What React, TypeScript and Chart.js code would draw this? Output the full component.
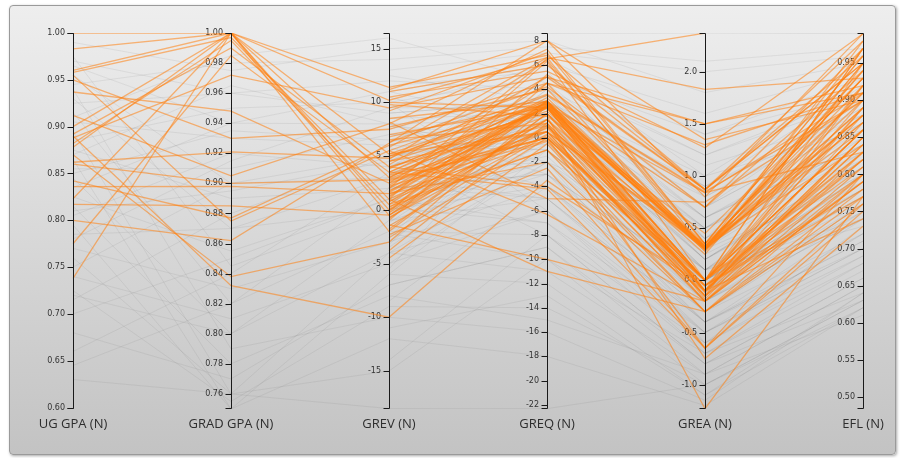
import React, { useEffect, useRef } from "react";
import { Chart, registerables } from "chart.js";

Chart.register(...registerables);

// ---- axes ----
const AXIS_NAMES = ["UG GPA (N)", "GRAD GPA (N)", "GREV (N)", "GREQ (N)", "GREA (N)", "EFL (N)"];
const AXIS_MIN = [0.5985, 0.75, -18.54, -22.33, -1.233, 0.4834];
const AXIS_MAX = [1.0, 1.0, 16.46, 8.634, 2.371, 0.9909];

const TICKS_UG = [0.6, 0.65, 0.7, 0.75, 0.8, 0.85, 0.9, 0.95, 1.0];
const TICKS_GRAD = [0.76, 0.78, 0.8, 0.82, 0.84, 0.86, 0.88, 0.9, 0.92, 0.94, 0.96, 0.98, 1.0];
const TICKS_GREV = [-15, -10, -5, 0, 5, 10, 15];
const TICKS_GREQ = [-22, -20, -18, -16, -14, -12, -10, -8, -6, -4, -2, 0, 2, 4, 6, 8];
const TICKS_GREA = [-1.0, -0.5, 0.0, 0.5, 1.0, 1.5, 2.0];
const TICKS_EFL = [0.5, 0.55, 0.6, 0.65, 0.7, 0.75, 0.8, 0.85, 0.9, 0.95];
const TICK_DECIMALS = [2, 2, 0, 0, 1, 2];

// ---- highlighted (orange) records with GPA values ----
const OA_UG = [1.0, 0.983, 0.96, 0.958, 0.95, 0.937, 0.912, 0.9, 0.892, 0.888, 0.882, 0.878, 0.862, 0.86, 0.842, 0.836, 0.823, 0.817, 0.8, 0.775, 0.738, 0.955, 0.87, 0.89];
const OA_GRAD = [1.0, 1.0, 1.0, 0.997, 0.93, 0.948, 0.905, 1.0, 0.99, 0.972, 0.995, 1.0, 0.921, 0.9, 0.877, 0.898, 1.0, 0.885, 0.862, 0.985, 1.0, 0.875, 0.838, 0.832];
const OA_GREV = [11.4, 5.2, 3.0, 1.0, 7.5, 2.5, 8.0, -0.5, 4.0, 9.5, 0.5, -2.0, 4.8, 2.8, 6.0, 1.5, 10.2, -0.5, 6.2, 3.5, 0.0, 5.5, -3.0, -10.0];
const OA_GREQ = [6.8, 3.0, 2.5, 6.3, 4.5, 0.5, 7.3, 2.7, 1.0, 5.0, -1.0, 2.0, 3.5, 0.0, 2.8, -2.0, 6.6, 1.5, 8.0, -4.2, 3.0, -6.3, 2.6, -3.5];
const OA_GREA = [0.87, 0.32, -0.1, 0.0, 1.3, -0.15, 0.35, 0.3, -0.2, 1.5, 0.0, 0.25, 0.84, -0.05, 0.33, -0.3, 1.83, -0.1, 0.8, -0.65, 0.3, -0.2, 0.0, -0.1];
const OA_EFL = [0.95, 0.93, 0.89, 0.97, 0.91, 0.85, 0.96, 0.88, 0.8, 0.92, 0.86, 0.94, 0.83, 0.78, 0.87, 0.76, 0.93, 0.82, 0.99, 0.8, 0.95, 0.79, 0.9, 0.74];

// ---- highlighted (orange) records without GPA values ----
const OB_GREV = [11.0, 10.5, 10.0, 9.2, 8.5, 7.7, 7.0, 6.5, 5.8, 5.0, 4.5, 4.2, 3.8, 3.3, 3.0, 2.7, 2.3, 2.0, 1.8, 1.5, 1.2, 1.0, 0.7, 0.3, 0.0, -0.3, -0.7, -1.0, -1.4, -1.8, -2.3, -2.6, -3.8, -4.5, 1.0, 11.2, 9.8, 8.2, 6.8, 5.2, 4.0, 3.5, 2.5, 1.7, 0.5, -0.2, 5.0, 3.2, 2.0, 3.5, 4.5, 0.8, -0.8, 1.3, 5.5, 2.2, 3.9, -1.5, 0.2, 6.3, 2.9, 4.7, 1.6, -0.5];
const OB_GREQ = [6.0, 5.5, 2.5, 7.0, 3.0, 4.0, 2.5, 1.2, 6.6, 2.8, 0.5, 5.0, 2.9, 1.8, 3.3, 0.0, 2.6, 6.5, 1.5, -0.3, 2.8, 0.8, 3.0, -1.0, 1.0, 2.7, 0.3, 4.5, -10.0, 2.0, -2.5, 0.0, 1.2, -0.5, -11.0, 8.0, 1.8, -5.0, 3.0, 0.5, -4.0, 2.5, 4.5, 3.0, 2.8, 5.2, 2.0, 0.0, 2.6, 3.1, 2.2, 0.5, 1.5, 2.9, 3.6, -0.2, 2.4, 0.2, 2.7, 4.2, 1.2, 6.4, 2.5, 0.9];
const OB_GREA = [0.87, 1.27, 0.3, 0.35, 0.7, 0.32, -0.15, 0.0, 0.3, -0.1, 0.35, 0.87, 0.0, -1.23, 0.32, -0.1, 0.28, 2.37, 0.3, -0.2, 0.0, -0.05, 0.35, -0.3, 0.0, 0.84, -0.15, 0.3, -0.2, -0.1, -0.65, 0.0, -0.75, -0.3, -0.3, 1.35, 0.45, 0.75, 0.0, 0.32, -0.05, -0.1, 1.5, 0.0, 0.33, 0.87, 0.0, -0.65, 0.3, -0.1, 0.33, -0.15, 0.0, 0.28, 0.85, -0.2, 0.32, -0.05, -0.12, 0.7, 0.0, 0.35, -0.18, 0.3];
const OB_EFL = [0.96, 0.99, 0.91, 0.97, 0.94, 0.9, 0.92, 0.86, 0.98, 0.84, 0.88, 0.95, 0.81, 0.77, 0.93, 0.85, 0.89, null, 0.87, 0.83, 0.92, 0.8, 0.96, 0.78, 0.86, 0.91, 0.82, 0.94, 0.79, 0.85, 0.75, 0.88, 0.73, 0.8, 0.77, 0.9, 0.93, 0.9, 0.97, 0.84, 0.83, 0.95, 0.91, 0.89, 0.86, 0.98, 0.82, 0.76, 0.88, 0.84, 0.92, 0.79, 0.86, 0.95, 0.9, 0.81, 0.93, 0.77, 0.87, 0.97, 0.83, 0.91, 0.85, 0.89];

// ---- background (gray) records with GPA values ----
const GA_UG = [0.97, 0.965, 0.955, 0.945, 0.93, 0.925, 0.915, 0.905, 0.895, 0.885, 0.875, 0.865, 0.855, 0.845, 0.835, 0.825, 0.815, 0.805, 0.795, 0.785, 0.77, 0.76, 0.75, 0.74, 0.725, 0.715, 0.7, 0.68, 0.645, 0.63, 0.99, 0.975, 0.94, 0.91, 0.87, 0.85, 0.81, 0.78, 0.72, 0.66];
const GA_GRAD = [0.96, 0.94, 0.9, 0.98, 0.87, 0.96, 0.82, 0.93, 0.76, 0.95, 0.89, 0.75, 0.91, 0.8, 0.94, 0.855, 0.78, 0.92, 0.75, 0.87, 0.83, 0.76, 0.9, 0.81, 0.755, 0.88, 0.85, 0.77, 0.82, 0.76, 0.975, 0.845, 0.79, 0.985, 0.965, 0.935, 0.895, 0.915, 0.8, 0.84];
const GA_GREV = [12.0, 8.0, 5.0, 14.0, 3.0, 9.0, -2.0, 6.0, -18.5, 10.0, 2.0, -6.0, 7.0, -4.0, 11.0, 1.0, -8.0, 4.0, -12.0, 0.0, -3.0, -15.0, 3.0, -5.0, -9.0, 5.0, 1.0, -7.0, 2.0, -4.0, 15.0, 0.0, -10.0, 16.0, 8.0, 6.5, 4.5, 9.5, -1.0, 3.5];
const GA_GREQ = [4.0, -2.0, 1.0, 7.5, -5.0, 3.0, -8.0, 2.0, -22.3, 5.0, -3.0, -12.0, 0.0, -6.0, 6.0, -1.0, -15.0, 3.0, -18.0, -4.0, 1.0, -10.0, 2.0, -2.0, -14.0, 0.0, -7.0, -9.0, -3.0, -11.0, 8.0, -2.0, -16.0, 4.5, 1.5, -1.0, 3.5, 2.5, -5.0, 0.5];
const GA_GREA = [1.1, 0.5, 0.0, 2.1, -0.4, 0.6, -0.8, 0.2, -1.0, 1.4, -0.2, -1.1, 0.4, -0.6, 1.0, 0.1, -0.9, 0.7, -1.2, -0.3, 0.2, -0.7, 0.5, -0.1, -1.0, 0.3, -0.5, -0.8, 0.0, -0.9, 1.8, 0.1, -1.15, 1.2, 0.8, 0.0, 0.6, 0.9, -0.4, 0.25];
const GA_EFL = [0.88, 0.82, 0.76, 0.97, 0.7, 0.85, 0.66, 0.8, 0.62, 0.91, 0.74, 0.64, 0.83, 0.68, 0.93, 0.78, 0.65, 0.87, 0.62, 0.72, 0.81, 0.64, 0.86, 0.75, 0.63, 0.79, 0.69, 0.63, 0.77, 0.61, 0.95, 0.73, 0.64, 0.9, 0.89, 0.78, 0.84, 0.92, 0.71, 0.8];

// ---- background (gray) records without GPA values ----
const GB_GREV = [12.5, 11.5, 10.5, 9.5, 8.5, 8.0, 7.5, 7.0, 6.5, 6.0, 5.5, 5.0, 4.5, 4.0, 3.5, 3.0, 2.5, 2.0, 1.5, 1.0, 0.5, 0.0, -0.5, -1.0, -1.5, -2.0, -2.5, -3.0, -3.5, -4.0, -5.0, -6.0, -7.0, -8.5, -11.0, -14.0, 13.0, 16.5, 4.8, 3.8, 2.2, 1.2, 0.2, -0.8, -2.2, 7.8, 5.8, 9.0, 2.8, -0.2, 1.8, 3.2, -1.2, 6.2, 4.2, 0.8, -3.2, 10.0, -5.5, 11.0];
const GB_GREQ = [3.0, 5.5, 0.0, 6.0, 2.0, -3.0, 4.0, 1.0, 3.5, -1.0, 2.5, 0.5, 5.0, 1.5, -2.0, 3.0, 0.0, 2.0, -1.5, 1.0, 4.0, -0.5, 2.5, -3.0, 1.0, -1.0, 3.0, -4.0, 0.0, -2.0, -6.0, -1.0, -9.0, -4.0, -13.0, -8.0, 7.0, 8.6, -8.0, 6.5, -5.0, 5.0, -7.0, 4.0, -10.0, 0.0, -4.0, 3.0, 1.5, -2.5, 0.5, 2.2, 1.5, 4.5, -0.5, -2.0, 2.0, -6.0, 3.5, 1.0];
const GB_GREA = [1.0, 0.4, 0.1, 1.6, 0.6, 0.0, 0.8, -0.2, 0.3, 0.1, 0.5, -0.1, 1.2, 0.2, -0.3, 0.4, 0.0, 0.3, -0.2, 0.1, 0.7, -0.1, 0.2, -0.4, 0.0, -0.3, 0.5, -0.5, -0.1, -0.6, -0.7, -0.2, -0.9, -0.4, -1.1, -0.8, 2.0, 2.37, -0.6, 1.4, -0.5, 0.9, -0.7, 0.6, -1.0, 0.0, -0.3, 0.9, 0.1, -0.4, -0.1, 0.3, 0.2, 0.7, 0.0, -0.2, 0.1, -0.5, 0.4, 0.5];
const GB_EFL = [0.86, 0.9, 0.79, 0.94, 0.84, 0.77, 0.88, 0.81, 0.86, 0.74, 0.83, 0.8, 0.91, 0.82, 0.76, 0.85, 0.79, 0.83, 0.75, 0.81, 0.87, 0.78, 0.82, 0.72, 0.8, 0.76, 0.84, 0.7, 0.77, 0.73, 0.68, 0.74, 0.65, 0.71, 0.62, 0.66, 0.96, 0.99, 0.69, 0.93, 0.72, 0.89, 0.67, 0.86, 0.63, 0.8, 0.75, 0.88, 0.83, 0.74, 0.79, 0.85, 0.81, 0.9, 0.78, 0.76, 0.82, 0.7, 0.84, 0.87];

const ORANGE = "rgba(255,127,14,0.55)";
const GRAY = "rgba(95,95,95,0.1)";

type Row = (number | null)[];

function withGpa(cols: Row[]): Row[] {
  return cols[0].map((_, r) => cols.map((c) => c[r]));
}
function withoutGpa(cols: Row[]): Row[] {
  return cols[0].map((_, r) => [null, null, ...cols.map((c) => c[r])]);
}
function normalize(row: Row): Row {
  return row.map((v, k) => (v == null ? null : (v - AXIS_MIN[k]) / (AXIS_MAX[k] - AXIS_MIN[k])));
}

const AXIS_TICKS = [TICKS_UG, TICKS_GRAD, TICKS_GREV, TICKS_GREQ, TICKS_GREA, TICKS_EFL];

const axesPlugin = {
  id: "pcAxes",
  beforeDatasetsDraw(chart: any) {
    const ctx = chart.ctx;
    const xs = chart.scales.x;
    ctx.save();
    ctx.font = '8px "DejaVu Sans", sans-serif';
    ctx.fillStyle = "#333";
    ctx.textAlign = "right";
    ctx.textBaseline = "middle";
    AXIS_TICKS.forEach((ticks, k) => {
      const sc = chart.scales["a" + k];
      const x = Math.round(xs.getPixelForValue(k));
      ticks.forEach((t) => {
        const y = sc.getPixelForValue(t);
        ctx.fillText(t.toFixed(TICK_DECIMALS[k]), x - 8, y);
      });
    });
    ctx.font = '13px "Open Sans", sans-serif';
    ctx.fillStyle = "#2e2e2e";
    ctx.textAlign = "center";
    AXIS_NAMES.forEach((name, k) => {
      const x = xs.getPixelForValue(k);
      ctx.fillText(name, x, chart.chartArea.bottom + 15);
    });
    ctx.restore();
  },
  afterDatasetsDraw(chart: any) {
    const ctx = chart.ctx;
    const xs = chart.scales.x;
    const { top, bottom } = chart.chartArea;
    ctx.save();
    ctx.strokeStyle = "#1a1a1a";
    ctx.lineWidth = 1;
    AXIS_TICKS.forEach((ticks, k) => {
      const sc = chart.scales["a" + k];
      const x = Math.round(xs.getPixelForValue(k)) + 0.5;
      ctx.beginPath();
      ctx.moveTo(x - 6, top + 0.5);
      ctx.lineTo(x, top + 0.5);
      ctx.lineTo(x, bottom - 0.5);
      ctx.lineTo(x - 6, bottom - 0.5);
      ticks.forEach((t) => {
        const y = Math.round(sc.getPixelForValue(t)) + 0.5;
        ctx.moveTo(x - 6, y);
        ctx.lineTo(x, y);
      });
      ctx.stroke();
    });
    ctx.restore();
  },
};

export default function App() {
  const ref = useRef<HTMLCanvasElement | null>(null);

  useEffect(() => {
    if (!ref.current) return;
    const orangeRows = [
      ...withGpa([OA_UG, OA_GRAD, OA_GREV, OA_GREQ, OA_GREA, OA_EFL]),
      ...withoutGpa([OB_GREV, OB_GREQ, OB_GREA, OB_EFL]),
    ];
    const grayRows = [
      ...withGpa([GA_UG, GA_GRAD, GA_GREV, GA_GREQ, GA_GREA, GA_EFL]),
      ...withoutGpa([GB_GREV, GB_GREQ, GB_GREA, GB_EFL]),
    ];
    const mk = (row: Row, color: string, width: number, order: number) => ({
      data: normalize(row),
      borderColor: color,
      borderWidth: width,
      pointRadius: 0,
      pointHoverRadius: 0,
      fill: false,
      tension: 0,
      spanGaps: false,
      order,
      xAxisID: "x",
      yAxisID: "yn",
    });
    const datasets = [
      ...orangeRows.map((r) => mk(r, ORANGE, 1.3, 0)),
      ...grayRows.map((r) => mk(r, GRAY, 1, 1)),
    ];
    const axisScales: any = {};
    AXIS_NAMES.forEach((_, k) => {
      axisScales["a" + k] = { type: "linear", axis: "y", min: AXIS_MIN[k], max: AXIS_MAX[k], display: false };
    });
    const chart = new Chart(ref.current, {
      type: "line",
      data: { labels: AXIS_NAMES, datasets: datasets as any },
      options: {
        animation: false,
        responsive: false,
        events: [],
        layout: { padding: { left: 73, right: 37, top: 33, bottom: 49 } },
        plugins: { legend: { display: false }, tooltip: { enabled: false } },
        scales: {
          x: { type: "category", display: false, offset: false },
          yn: { type: "linear", min: 0, max: 1, display: false },
          ...axisScales,
        },
      },
      plugins: [axesPlugin],
    });
    return () => chart.destroy();
  }, []);

  return (
    <div style={{ position: "absolute", left: 0, top: 0, width: 900, height: 458, background: "#fff" }}>
      <div
        style={{
          position: "absolute",
          left: 9,
          top: 5,
          width: 887,
          height: 450,
          boxSizing: "border-box",
          border: "1px solid #9a9a9a",
          borderRadius: 4,
          background: "linear-gradient(#eeeeee, #c3c3c3)",
          boxShadow: "1px 1px 3px rgba(0,0,0,0.35)",
        }}
      />
      <canvas
        ref={ref}
        width={900}
        height={458}
        style={{ position: "absolute", left: 0, top: 0, width: 900, height: 458 }}
      />
    </div>
  );
}
